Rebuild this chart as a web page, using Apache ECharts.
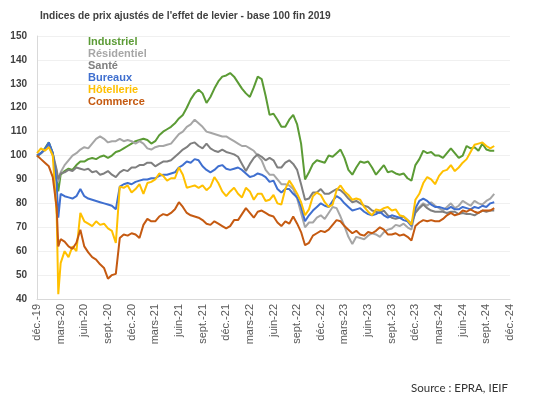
<!DOCTYPE html>
<html>
<head>
<meta charset="utf-8">
<script src="https://cdn.jsdelivr.net/npm/echarts@6/dist/echarts.min.js"></script>
<style>
  html, body { margin: 0; padding: 0; background: #fff; }
  #chart { width: 540px; height: 399px; }
</style>
</head>
<body>
<div id="chart"></div>
<script>
// months since end of Dec 2019, semi-monthly, plus one point at the March 2020 low
const months = [0, 0.5, 1, 1.5, 2, 2.5, 2.7];
for (let m = 3; m <= 58; m += 0.5) months.push(m);

const tickLabels = ['déc.-19', 'mars-20', 'juin-20', 'sept.-20', 'déc.-20', 'mars-21', 'juin-21',
    'sept.-21', 'déc.-21', 'mars-22', 'juin-22', 'sept.-22', 'déc.-22', 'mars-23', 'juin-23',
    'sept.-23', 'déc.-23', 'mars-24', 'juin-24', 'sept.-24', 'déc.-24'];

const industriel = [99.5, 101, 103, 105.5, 101, 90, 85,
    92, 93.5, 94.5, 94, 96, 97.5, 97.5, 98.5, 99, 98.5, 99.5, 100, 99, 100, 101.5, 102, 103, 104, 105, 106, 106.5, 107, 106.5, 105,
    106, 108.5, 110, 111, 112, 113.5, 115.5, 117, 120, 123.5, 126, 127.5, 126, 122, 124.5, 128, 131, 133, 133.5, 134.5, 133, 130.5, 128, 126, 124.5, 128.5, 133, 132, 125, 117,
    117.5, 115, 112, 112, 115, 117, 113, 105, 90, 93, 96.5, 98, 97.5, 97, 100, 99.5, 101, 102.5, 99, 94, 92, 95, 97.5, 97, 97.5, 95, 92, 94, 96, 93,
    93.5, 92.5, 92, 92.5, 90.5, 89.5, 96, 98.5, 102, 101, 101.5, 100, 100, 99, 101, 103, 101, 99, 100, 104, 103, 103.5, 102, 105, 102.5, 102, 102];

const residentiel = [100, 101, 102.5, 104, 100, 93, 89,
    93, 96, 98, 100, 101, 102.5, 103.5, 103, 105, 107, 108, 107, 105.5, 106, 106, 107, 106, 106.5, 106, 105, 106, 105, 103, 102.5,
    103.5, 104, 104, 104.5, 105, 107, 109, 110, 112, 113, 115, 113.5, 112, 110, 109.5, 109, 108.5, 108, 108, 107, 106, 105, 104, 104, 103, 102, 100, 98, 94, 92,
    92, 90, 88, 88, 87.5, 86, 82, 76, 70, 72, 72, 74, 75, 73.5, 76, 78.5, 78, 74.5, 70.5, 66, 63, 66, 65.5, 65, 66.5, 67.5, 67, 66, 68, 69,
    69.5, 71, 70.5, 71.5, 70, 69, 77, 78.5, 80, 79, 80.5, 79, 78, 77, 78.5, 80, 78, 79, 81, 80, 79, 81, 80, 79.5, 81, 82, 84];

const sante = [100, 101, 102.5, 105, 101, 94, 90,
    92.5, 93, 94, 93.5, 95, 94.5, 94, 94.5, 93, 93.5, 92, 92.5, 93.5, 92, 91, 93, 94, 93.5, 95, 95, 96, 96, 97, 97,
    95.5, 96.5, 97.5, 97.5, 98, 99.5, 101, 102.5, 103.5, 105, 105.5, 104, 103, 105, 103, 102, 101.5, 102.5, 101.5, 101, 100.5, 99.5, 96.5, 93.5, 96.5, 99, 100.5, 99.5, 98, 99,
    98, 95, 95, 97, 98, 96.5, 94, 88, 81.5, 82, 84.5, 84.5, 86, 84, 84, 85, 86, 85.5, 84, 82, 80.5, 81, 80, 79, 78.5, 77, 76.5, 76, 77, 75,
    74, 73.5, 74, 74.5, 73, 71.5, 76, 78, 79.5, 78, 77, 76.5, 76.5, 76.5, 76, 76.5, 76.5, 75.5, 76, 75.5, 75.5, 75, 76, 77, 76.5, 77, 77];

const bureaux = [100, 101, 102.5, 105.5, 101, 88, 74,
    84, 83, 82.5, 82, 83, 86, 83, 82, 81.5, 81, 80.5, 80, 79.5, 79, 77.5, 87, 88, 88.5, 88, 89, 89.5, 90, 90, 90.5,
    90.5, 91.5, 92, 92, 92.5, 93, 95, 96, 97.5, 97, 98.5, 98, 95.5, 94, 93, 94, 95.5, 96, 94.5, 94, 94.5, 95, 94, 92.5, 91, 91.5, 92.5, 92, 91, 89,
    89.5, 86, 84.5, 86, 86, 84, 82.5, 78.5, 72.5, 75, 77, 78.5, 80, 79, 78.5, 81, 83, 82, 80, 78.5, 77, 77.5, 78, 76.5, 75.5, 75, 75.5, 76.5, 75, 74,
    75, 74.5, 74, 73, 72.5, 70.5, 78, 81, 82, 81, 79.5, 78.5, 78.5, 78, 77.5, 78.5, 77.5, 77.5, 78.5, 78, 77.5, 78.5, 78, 79, 78.5, 80, 80.5];

const hotellerie = [101, 103, 102, 103.5, 100, 75, 42,
    55, 60, 57.5, 62, 60, 76, 72.5, 71.5, 70.5, 72.5, 71, 71.5, 69.5, 68.5, 63.5, 87, 86.5, 87.5, 84.5, 86, 88, 84, 88.5, 89,
    90, 92.5, 91.5, 89.5, 90.5, 90.5, 95, 92, 86.5, 87, 87.5, 86.5, 87.5, 85.5, 87, 91, 88.5, 85, 83, 85, 86.5, 84, 82.5, 86.5, 85, 81.5, 84, 84, 81, 81.5,
    83.5, 80, 79.5, 86, 89.5, 87, 84, 80.5, 75, 77.5, 83, 84.5, 83.5, 80.5, 78.5, 79.5, 85.5, 87.5, 85, 83.5, 81.5, 82, 81.5, 78.5, 76.5, 75, 77.5, 77, 78, 78.5,
    77, 77.5, 75, 74.5, 73, 71, 81.5, 84, 88.5, 91, 90, 88, 91.5, 93.5, 94, 96, 93.5, 95, 97, 98.5, 101.5, 104.5, 105, 105.5, 104, 103, 104];

const commerce = [100, 98.5, 97, 95.5, 91, 78, 62,
    65, 64, 62, 61, 63.5, 69, 62, 59.5, 57.5, 56.5, 54.5, 53, 48.5, 50, 50.5, 65.5, 67, 66.5, 67.5, 67, 65.5, 71, 73.5, 72.5,
    72.5, 74.5, 75.5, 75, 76, 77.5, 80.5, 78.5, 76, 75, 74.5, 74, 73, 71.5, 71, 72.5, 71.5, 70.5, 69.5, 70.5, 73, 73, 75.5, 78, 76, 74, 76.5, 77, 76, 75,
    74.5, 72, 70.5, 72.5, 71.5, 74.5, 71.5, 68, 62.5, 63.5, 66.5, 67.5, 68.5, 68, 69, 71, 73, 72.5, 70.5, 69, 67.5, 68.5, 67, 66.5, 68, 67.5, 68.5, 70, 69, 67,
    67, 67.5, 66.5, 67, 66, 64.5, 70.5, 72, 73, 72.5, 73, 72.5, 72.5, 73.5, 75, 76, 75, 75.5, 77, 76.5, 77.5, 76.5, 76, 77, 77, 77, 78];

const seriesNames = ['Industriel', 'Résidentiel', 'Santé', 'Bureaux', 'Hôtellerie', 'Commerce'];
const seriesValues = [industriel, residentiel, sante, bureaux, hotellerie, commerce];
const seriesColors = ['#5b9b35', '#a6a6a6', '#7f7f7f', '#3f6fcf', '#ffc000', '#c55a11'];

const chart = echarts.init(document.getElementById('chart'), null, { renderer: 'canvas' });

const option = {
    animation: false,
    backgroundColor: '#fff',
    title: {
        text: "Indices de prix ajustés de l'effet de levier - base 100 fin 2019",
        left: 40,
        top: 11,
        padding: 0,
        textStyle: { fontFamily: 'Liberation Sans', fontSize: 10.2, fontWeight: 'bold', color: '#404040' }
    },
    legend: {
        orient: 'vertical',
        left: 83,
        top: 35,
        padding: 0,
        icon: 'none',
        itemWidth: 0,
        itemHeight: 13.3,
        itemGap: 0,
        selectedMode: false,
        textStyle: { fontFamily: 'Liberation Sans', fontSize: 11, fontWeight: 'bold' },
        data: seriesNames.map((n, i) => ({ name: n, textStyle: { color: seriesColors[i] } }))
    },
    grid: { left: 37, right: 30, top: 36, bottom: 100, containLabel: false },
    xAxis: {
        type: 'value',
        min: 0,
        max: 60,
        interval: 3,
        axisLine: { lineStyle: { color: '#d9d9d9' } },
        axisTick: { show: false },
        splitLine: { show: false },
        axisLabel: {
            rotate: 90,
            margin: 5,
            fontFamily: 'Liberation Sans',
            fontSize: 11,
            color: '#595959',
            formatter: (v) => tickLabels[Math.round(v / 3)] || ''
        }
    },
    yAxis: {
        type: 'value',
        min: 40,
        max: 150,
        interval: 10,
        axisLine: { show: true, lineStyle: { color: '#d9d9d9' } },
        axisTick: { show: false },
        splitLine: { lineStyle: { color: '#f0f0f0' } },
        axisLabel: { margin: 10, fontFamily: 'Liberation Sans', fontSize: 10, fontWeight: 'bold', color: '#404040' }
    },
    series: seriesNames.map((n, i) => ({
        name: n,
        type: 'line',
        symbol: 'none',
        lineStyle: { color: seriesColors[i], width: 2 },
        itemStyle: { color: seriesColors[i] },
        data: months.map((m, j) => [m, seriesValues[i][j]])
    })),
    graphic: [{
        type: 'text',
        right: 32,
        top: 382,
        style: { text: 'Source : EPRA, IEIF', font: '11.5px Lato', fill: '#333' }
    }]
};

chart.setOption(option);
</script>
</body>
</html>
